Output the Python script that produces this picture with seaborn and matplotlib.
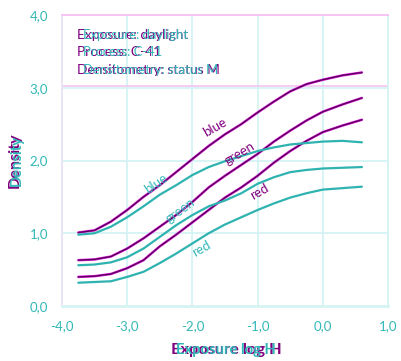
import numpy as np
import pandas as pd
import matplotlib
matplotlib.use('Agg')
import matplotlib.pyplot as plt
import matplotlib.transforms as mtransforms
import seaborn as sns

# 曝光量 (log H)
log_h = [-3.75, -3.5, -3.25, -3.0, -2.75, -2.5, -2.25, -2.0, -1.75, -1.5,
         -1.25, -1.0, -0.75, -0.5, -0.25, 0.0, 0.3, 0.6]

# 紫色曲线 (密度)
purple_blue = [1.01, 1.04, 1.16, 1.32, 1.50, 1.66, 1.84, 2.02, 2.20, 2.36,
               2.50, 2.66, 2.81, 2.95, 3.05, 3.11, 3.17, 3.21]
purple_green = [0.63, 0.64, 0.68, 0.79, 0.93, 1.09, 1.25, 1.43, 1.63, 1.79,
                1.94, 2.09, 2.26, 2.41, 2.55, 2.67, 2.77, 2.86]
purple_red = [0.40, 0.41, 0.44, 0.52, 0.63, 0.82, 0.98, 1.15, 1.32, 1.49,
              1.63, 1.79, 1.97, 2.13, 2.27, 2.39, 2.48, 2.56]

# 青色曲线 (密度)
teal_blue = [0.98, 1.00, 1.09, 1.22, 1.37, 1.53, 1.66, 1.80, 1.91, 1.99,
             2.06, 2.13, 2.18, 2.22, 2.24, 2.26, 2.27, 2.25]
teal_green = [0.56, 0.57, 0.60, 0.67, 0.79, 0.95, 1.11, 1.25, 1.37, 1.45,
              1.55, 1.68, 1.77, 1.84, 1.87, 1.89, 1.90, 1.91]
teal_red = [0.32, 0.33, 0.34, 0.40, 0.47, 0.59, 0.72, 0.86, 1.00, 1.12,
            1.22, 1.32, 1.41, 1.49, 1.55, 1.60, 1.62, 1.64]

x_ticks = [-4.0, -3.0, -2.0, -1.0, 0.0, 1.0]
x_tick_labels = ['-4,0', '-3,0', '-2,0', '-1,0', '0,0', '1,0']
y_ticks = [0.0, 1.0, 2.0, 3.0, 4.0]
y_tick_labels = ['0,0', '1,0', '2,0', '3,0', '4,0']

header_lines = ['Exposure: daylight', 'Process: C-41', 'Densitometry: status M']

TEAL = '#2fb3b0'
TEAL_TXT = '#33b8b8'
PURPLE = '#5c005c'
MAGENTA = '#e01ee0'
PURPLE_TXT = '#800080'
GRID = '#d6f3f3'
PINK = '#f7c4f2'

sns.set_style('white')
plt.rcParams['font.family'] = ['Lato', 'DejaVu Sans']

df = pd.DataFrame({'logH': log_h})

fig = plt.figure(figsize=(4.01, 3.61), dpi=100)
ax = fig.add_axes([62 / 401, 55 / 361, 326 / 401, 291 / 361])

# 网格
for xv in [-3.0, -2.0, -1.0, 0.0]:
    ax.axvline(xv, color=GRID, lw=1.3, zorder=0)
for yv in [1.0, 2.0, 3.0]:
    ax.axhline(yv, color=GRID, lw=1.3, zorder=0)
for yv in [3.0, 4.0]:
    ax.axhline(yv + 0.02, color=PINK, lw=1.2, zorder=0)

# 紫色曲线
for vals in [purple_blue, purple_green, purple_red]:
    sns.lineplot(x=df['logH'], y=vals, ax=ax, color=MAGENTA, lw=1.8, zorder=3)
    sns.lineplot(x=df['logH'], y=vals, ax=ax, color=PURPLE, lw=1.0, zorder=4)

# 青色曲线
for vals in [teal_blue, teal_green, teal_red]:
    sns.lineplot(x=df['logH'], y=vals, ax=ax, color=TEAL, lw=1.6, zorder=5)

ax.set_xlim(-4.0, 1.0)
ax.set_ylim(0.0, 4.0)
ax.set_xticks(x_ticks)
ax.set_xticklabels(x_tick_labels)
ax.set_yticks(y_ticks)
ax.set_yticklabels(y_tick_labels)
ax.tick_params(axis='both', length=0, pad=10, labelsize=9.5, labelcolor=TEAL_TXT)
ax.set_xlabel('')
ax.set_ylabel('')

for side in ['top', 'right', 'bottom', 'left']:
    ax.spines[side].set_color(GRID)
    ax.spines[side].set_linewidth(1.4)
ax.spines['top'].set_color(PINK)
ax.spines['left'].set_color('#e8e4f4')
ax.spines['bottom'].set_linewidth(2.0)

# 曲线标签
ax.text(-1.66, 2.45, 'blue', color=PURPLE_TXT, fontsize=9.5, rotation=30,
        ha='center', va='center', rotation_mode='anchor', zorder=6)
ax.text(-1.27, 2.10, 'green', color=PURPLE_TXT, fontsize=9.5, rotation=31,
        ha='center', va='center', rotation_mode='anchor', zorder=6)
ax.text(-0.97, 1.57, 'red', color=PURPLE_TXT, fontsize=9.5, rotation=30,
        ha='center', va='center', rotation_mode='anchor', zorder=6)
ax.text(-2.55, 1.68, 'blue', color=TEAL_TXT, fontsize=9.5, rotation=35,
        ha='center', va='center', rotation_mode='anchor', zorder=6)
ax.text(-2.19, 1.32, 'green', color=TEAL_TXT, fontsize=9.5, rotation=36,
        ha='center', va='center', rotation_mode='anchor', zorder=6)
ax.text(-1.86, 0.79, 'red', color=TEAL_TXT, fontsize=9.5, rotation=30,
        ha='center', va='center', rotation_mode='anchor', zorder=6)

# 说明文字 (紫色底字略宽, 青色字在上)
shift = mtransforms.offset_copy(ax.transData, fig=fig, x=6, y=0, units='dots')
for i, line in enumerate(header_lines):
    yv = 3.67 - i * 0.24
    ax.text(-3.77, yv, line, color=PURPLE_TXT, fontsize=9.9, va='baseline', zorder=6)
    ax.text(-3.77, yv, line, color=TEAL_TXT, fontsize=9.4, va='baseline',
            transform=shift, zorder=7)

# 坐标轴标题
fig.text(226 / 401, 1 - 350 / 361, 'Exposure log H', color=PURPLE_TXT,
         fontsize=11.8, fontweight='bold', ha='center', va='center')
fig.text(226 / 401, 1 - 350 / 361, 'Exposure log H', color=TEAL_TXT,
         fontsize=10.6, fontweight='bold', ha='center', va='center')
fig.text(15 / 401, 1 - 160 / 361, 'Density', color=PURPLE_TXT, rotation=90,
         fontsize=11.6, fontweight='bold', ha='center', va='center')
fig.text(17 / 401, 1 - 160 / 361, 'Density', color=TEAL_TXT, rotation=90,
         fontsize=10.6, fontweight='bold', ha='center', va='center')

fig.savefig('out.png', dpi=100)
